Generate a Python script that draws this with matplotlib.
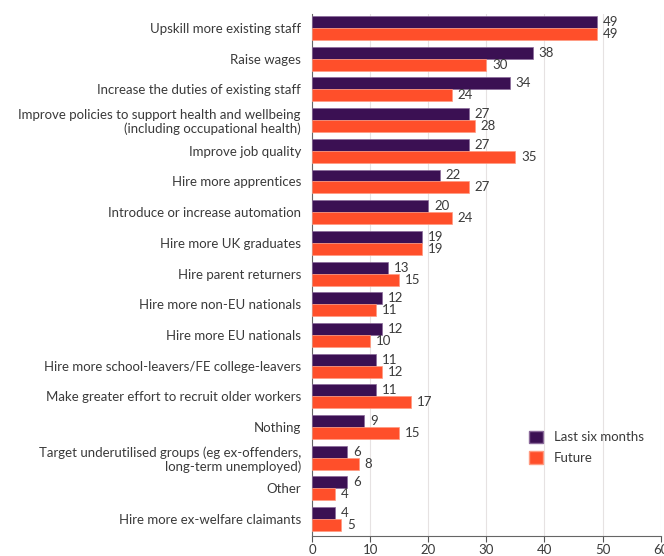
import numpy as np
import matplotlib
matplotlib.use("Agg")
import matplotlib.pyplot as plt
from matplotlib.patches import Patch

plt.rcParams['font.family'] = ['Lato', 'DejaVu Sans']

## responses and percentages

categories = [
    "Upskill more existing staff",
    "Raise wages",
    "Increase the duties of existing staff",
    "Improve policies to support health and wellbeing\n(including occupational health)",
    "Improve job quality",
    "Hire more apprentices",
    "Introduce or increase automation",
    "Hire more UK graduates",
    "Hire parent returners",
    "Hire more non-EU nationals",
    "Hire more EU nationals",
    "Hire more school-leavers/FE college-leavers",
    "Make greater effort to recruit older workers",
    "Nothing",
    "Target underutilised groups (eg ex-offenders,\nlong-term unemployed)",
    "Other",
    "Hire more ex-welfare claimants",
]
last_six_months = [49, 38, 34, 27, 27, 22, 20, 19, 13, 12, 12, 11, 11, 9, 6, 6, 4]
future = [49, 30, 24, 28, 35, 27, 24, 19, 15, 11, 10, 12, 17, 15, 8, 4, 5]
x_ticks = [0, 10, 20, 30, 40, 50, 60]

purple = "#3b1053"
orange = "#ff4f2a"
text_col = "#3a3a3a"

fig = plt.figure(figsize=(6.64, 5.56), dpi=100)
ax = fig.add_axes([0.47, 0.036, 0.525, 0.939])

ypos = np.arange(len(categories))
h = 0.39
ax.barh(ypos - h / 2, last_six_months, height=h, color=purple,
        edgecolor="#8a6a9a", linewidth=0.5, zorder=3)
ax.barh(ypos + h / 2, future, height=h, color=orange,
        edgecolor="#ff9a80", linewidth=0.5, zorder=3)

for y, a, b in zip(ypos, last_six_months, future):
    ax.text(a + 1.0, y - h / 2, str(a), va="center", ha="left",
            fontsize=9.5, color=text_col)
    ax.text(b + 1.0, y + h / 2, str(b), va="center", ha="left",
            fontsize=9.5, color=text_col)

ax.set_yticks(ypos)
ax.set_yticklabels(categories, fontsize=9.5, color=text_col)
ax.set_ylim(16.55, -0.46)
ax.set_xlim(0, 60)
ax.set_xticks(x_ticks)
ax.tick_params(axis="x", labelsize=9.5, colors="#555555", length=4, pad=2,
               labelcolor=text_col)
ax.tick_params(axis="y", length=0, pad=8)
ax.grid(axis="x", color="#e6e2e2", linewidth=0.8, zorder=0)

for side in ["top", "right"]:
    ax.spines[side].set_visible(False)
ax.spines["left"].set_color("#666666")
ax.spines["bottom"].set_color("#666666")

handles = [Patch(facecolor=purple, edgecolor="#8a6a9a", label="Last six months"),
           Patch(facecolor=orange, edgecolor="#ff9a80", label="Future")]
leg = ax.legend(handles=handles, loc="lower right", bbox_to_anchor=(0.985, 0.115),
                frameon=False, fontsize=9.5, handlelength=1.1, handleheight=1.1,
                labelspacing=0.6)
for t in leg.get_texts():
    t.set_color(text_col)

fig.savefig("out.png", dpi=100)
